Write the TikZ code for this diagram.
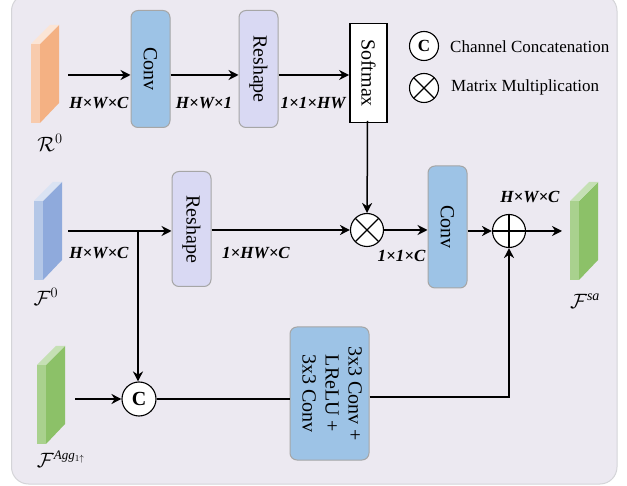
\documentclass[tikz,border=0pt]{standalone}
\usepackage{fontspec}
\setmainfont{Liberation Serif}
\usepackage{graphicx}
\usetikzlibrary{arrows.meta, positioning}
\definecolor{panelbg}{HTML}{ECE9F1}
\definecolor{panelline}{HTML}{D4D4D8}
\definecolor{boxline}{HTML}{A6A6A6}
\definecolor{convblue}{HTML}{9DC3E6}
\definecolor{reshapeblue}{HTML}{D9D9F3}

\begin{document}
\begin{tikzpicture}[
    x=1pt, y=-1pt,
    box/.style={rectangle, draw=boxline, line width=1pt, rounded corners=7pt, inner sep=0pt, align=center, font=\fontsize{20}{20}\selectfont},
    conv/.style={box, fill=convblue, minimum width=39pt},
    reshape/.style={box, fill=reshapeblue, minimum width=39pt},
    softmax/.style={rectangle, draw, fill=white, line width=1.8pt, inner sep=0pt, minimum width=37pt, minimum height=99pt, font=\fontsize{20}{20}\selectfont},
    op/.style={circle, draw, fill=white, line width=1.1pt, inner sep=0pt},
    concat/.style={op, minimum size=34pt, font=\fontsize{20}{20}\selectfont\bfseries},
    otimes/.style={op, minimum size=33pt, path picture={
        \draw[line width=1.1pt] (path picture bounding box.north west) -- (path picture bounding box.south east);
        \draw[line width=1.1pt] (path picture bounding box.north east) -- (path picture bounding box.south west);}},
    oplus/.style={op, minimum size=33pt, path picture={
        \draw[line width=1.1pt] (path picture bounding box.north) -- (path picture bounding box.south);
        \draw[line width=1.1pt] (path picture bounding box.west) -- (path picture bounding box.east);}},
    dims/.style={font=\fontsize{17}{17}\selectfont\bfseries\itshape, inner sep=0pt},
    legend/.style={font=\fontsize{17}{17}\selectfont, inner sep=0pt, anchor=west},
    symb/.style={font=\fontsize{20}{20}\selectfont, inner sep=0pt},
    arrow/.style={-{Stealth[length=10pt, width=10pt]}, line width=1.5pt},
    wire/.style={line width=1.5pt}
]

\useasboundingbox (0,0) rectangle (627,486);

% Panel
\begin{scope}
\clip (0,0) rectangle (627,486);
\draw[panelline, fill=panelbg, line width=1pt, rounded corners=17pt] (11.5,-6) rectangle (617,484);
\end{scope}

% Feature blocks
\foreach \x/\y/\front/\side/\top in {31/44/F8CBAD/F4B183/FBE5D6, 34/201/B4C7E7/8FAADC/DAE3F3, 37/365/A9D18E/8CC168/C5E0B4, 570/201/A9D18E/8CC168/C5E0B4} {
    \definecolor{cfront}{HTML}{\front}
    \definecolor{cside}{HTML}{\side}
    \definecolor{ctop}{HTML}{\top}
    \fill[cfront] (\x,\y) rectangle (\x+9,\y+79);
    \fill[cside] (\x+9,\y) -- (\x+28,\y-19) -- (\x+28,\y+59) -- (\x+9,\y+79) -- cycle;
    \fill[ctop] (\x,\y) -- (\x+19,\y-19) -- (\x+28,\y-19) -- (\x+9,\y) -- cycle;
}

% Block names
\node[symb] (rname) at (50,143) {$\mathcal{R}^{0}$};
\node[symb] (fname) at (46,297) {$\mathcal{F}^{0}$};
\node[symb] (aggname) at (61,459) {$\mathcal{F}^{\mbox{\fontsize{13}{13}\selectfont\itshape Agg$_{1\uparrow}$}}$};
\node[symb] (saname) at (585,301) {$\mathcal{F}^{\mbox{\fontsize{14}{14}\selectfont\itshape sa}}$};

% Top row
\node[conv, minimum height=117pt] (conva) at (150.5,69) {\rotatebox{-90}{Conv}};
\node[reshape, minimum height=117pt, right=68pt of conva] (reshapea) {\rotatebox{-90}{Reshape}};
\node[softmax] (softmax) at (368.5,73) {\rotatebox{-90}{Softmax}};

% Legend
\node[concat, minimum size=29pt, font=\fontsize{17}{17}\selectfont\bfseries] (legc) at (424,46) {C};
\node[otimes, minimum size=29pt] (legx) at (424,88) {};
\node[legend] (legctext) at (450,47) {Channel Concatenation};
\node[legend] (legxtext) at (451,87) {Matrix Multiplication};

% Middle row
\node[reshape, minimum height=115pt] (reshapeb) at (191.5,229) {\rotatebox{-90}{Reshape}};
\node[otimes] (mult) at (367,230) {};
\node[conv, minimum height=122pt] (convb) at (447.5,227) {\rotatebox{-90}{Conv}};
\node[oplus] (add) at (509,231) {};

% Bottom row
\node[concat] (cat) at (139,399) {C};
\node[conv, minimum width=79pt, minimum height=133pt] (convc) at (329.5,393.5) {\rotatebox{-90}{\begin{tabular}{c}3x3 Conv +\\[3pt]LReLU +\\[3pt]3x3 Conv\end{tabular}}};

% Free ends
\coordinate (rout) at (68,75);
\coordinate (fout) at (68,231);
\coordinate (aggout) at (75,399);
\coordinate (sain) at (562,231);
\coordinate (branch) at (138,231);

% Arrows
\draw[arrow] (rout) -- (rout -| conva.west);
\draw[arrow] (conva.east |- rout) -- (reshapea.west |- rout);
\draw[arrow] (reshapea.east |- rout) -- (softmax.west |- rout);
\draw[arrow] ([xshift=-1pt, yshift=2.5pt]softmax.south) -- (mult);
\draw[arrow] (fout) -- (fout -| reshapeb.west);
\draw[arrow] (branch) -- (branch |- cat.north);
\draw[arrow] (aggout) -- (cat);
\draw[arrow] (reshapeb.east |- mult) -- (mult);
\draw[arrow] (mult) -- (convb.west |- mult);
\draw[arrow] (convb.east |- add) -- (add);
\draw[arrow] (add) -- (sain);
\draw[wire] (cat) -- (cat -| convc.west);
\draw[arrow] (convc.east |- 0,397) -| (add);

% Dimension labels
\node[dims] (da) at (99,103) {H×W×C};
\node[dims] (db) at (204,103) {H×W×1};
\node[dims] (dc) at (313,103) {1×1×HW};
\node[dims] (dd) at (99,253) {H×W×C};
\node[dims] (de) at (256,253) {1×HW×C};
\node[dims] (df) at (401.5,256) {1×1×C};
\node[dims] (dg) at (530,197) {H×W×C};

\end{tikzpicture}
\end{document}
